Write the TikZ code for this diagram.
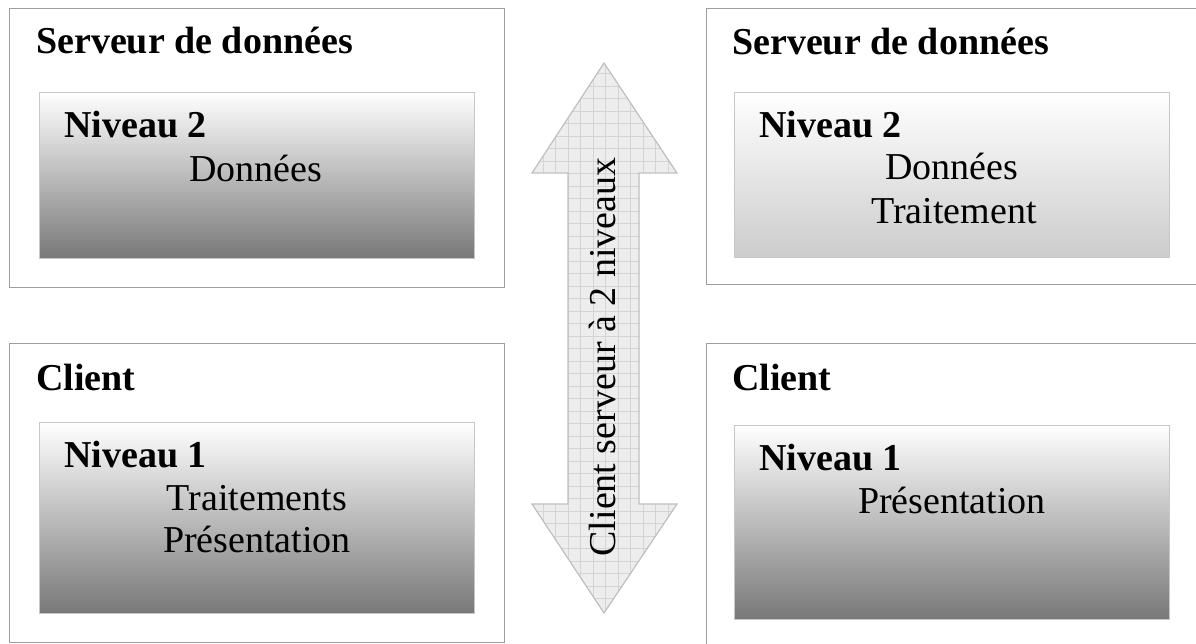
\documentclass[tikz,border=0pt]{standalone}
\usepackage{fontspec}
\setmainfont{Liberation Serif}
\begin{document}
\begin{tikzpicture}[x=1pt,y=-1pt,
  font=\fontsize{38}{44}\selectfont,
  outerbox/.style={draw=black!38,line width=1.4pt,fill=white,anchor=north west,inner sep=0pt},
  innerbox/.style={draw=black!22,line width=1pt,anchor=north west,inner sep=0pt,top color=white},
  darkgrad/.style={innerbox,bottom color=black!53},
  lightgrad/.style={innerbox,bottom color=black!20},
  heading/.style={anchor=base west,inner sep=0pt,font=\fontsize{38}{44}\selectfont\bfseries},
  entry/.style={anchor=base,inner sep=0pt},
  arrowbody/.style={fill=black!7,draw=black!25,line width=1.2pt,line join=miter},
  gridline/.style={draw=black!17,line width=0.7pt}]
\useasboundingbox (0,0) rectangle (1196,644);
\clip (0,0) rectangle (1196,644);

% left column: two-tier client/server with processing on the client
\node[outerbox,minimum width=495pt,minimum height=279pt] (srvL) at (9,8) {};
\node[darkgrad,minimum width=435pt,minimum height=166pt] (srvLin) at (39,92) {};
\node[heading] (srvLtitle) at (36,54) {Serveur de données};
\node[heading] (srvLlevel) at (64,138) {Niveau 2};
\node[entry] (srvLdata) at (256,182) {Données};

\node[outerbox,minimum width=495pt,minimum height=299pt] (cliL) at (9,343) {};
\node[darkgrad,minimum width=435pt,minimum height=191pt] (cliLin) at (39,422) {};
\node[heading] (cliLtitle) at (36,390) {Client};
\node[heading] (cliLlevel) at (64,467) {Niveau 1};
\node[entry] (cliLproc) at (257,510) {Traitements};
\node[entry] (cliLpres) at (257,552) {Présentation};

% right column: processing moved to the data server
\node[outerbox,minimum width=520pt,minimum height=276pt] (srvR) at (706,8) {};
\node[lightgrad,minimum width=435pt,minimum height=165pt] (srvRin) at (734,92) {};
\node[heading] (srvRtitle) at (732,55) {Serveur de données};
\node[heading] (srvRlevel) at (759,138) {Niveau 2};
\node[entry] (srvRdata) at (952,180) {Données};
\node[entry] (srvRproc) at (954,224) {Traitement};

\node[outerbox,minimum width=520pt,minimum height=320pt] (cliR) at (706,343) {};
\node[darkgrad,minimum width=435pt,minimum height=194pt] (cliRin) at (734,425) {};
\node[heading] (cliRtitle) at (732,390) {Client};
\node[heading] (cliRlevel) at (759,470) {Niveau 1};
\node[entry] (cliRpres) at (952,513) {Présentation};

% central double arrow with a squared fill
\path[arrowbody,path picture={
    \foreach \gx in {0,...,14} \draw[gridline] (530.8+12.5*\gx,50) -- (530.8+12.5*\gx,630);
    \foreach \gy in {0,...,46} \draw[gridline] (520,61+12.5*\gy) -- (690,61+12.5*\gy);
  }]
  (604,63) -- (677,173) -- (639,173) -- (639,504) -- (677,504) -- (604,613)
  -- (532,504) -- (568,504) -- (568,173) -- (532,173) -- cycle;
\node[rotate=90,anchor=base,inner sep=0pt] (tierlabel) at (615,357) {Client serveur à 2 niveaux};
\end{tikzpicture}
\end{document}
